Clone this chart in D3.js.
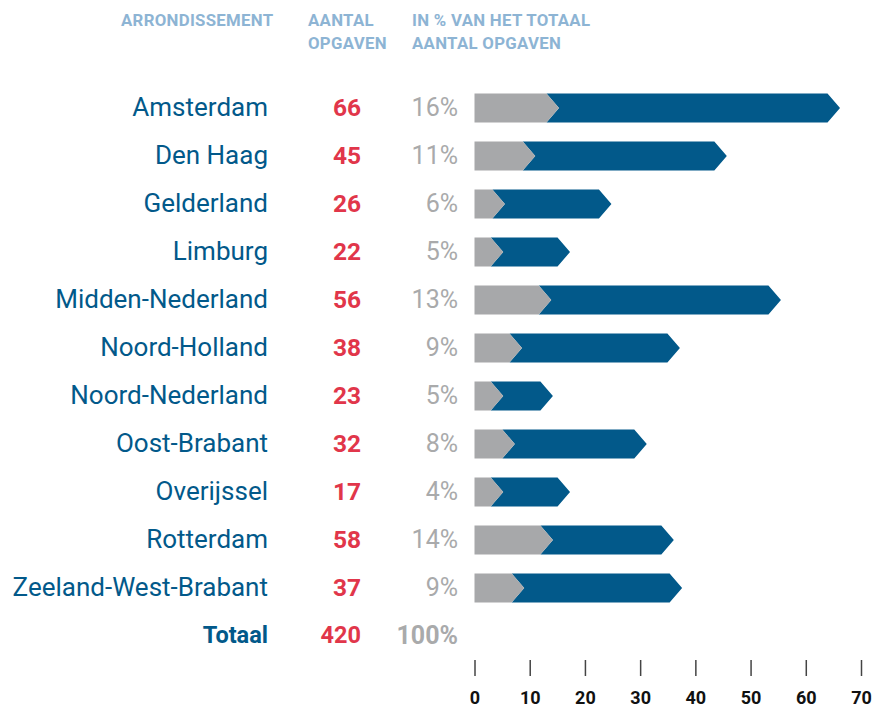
<!DOCTYPE html>
<html>
<head>
<meta charset="utf-8">
<script src="https://cdn.jsdelivr.net/npm/d3@7"></script>
<style>
  body { margin: 0; background: #fff; }
  svg { font-family: Roboto, "Noto Sans", sans-serif; }
</style>
</head>
<body>
<svg id="chart" width="874" height="709"></svg>
<script>
// values
const districts = ['Amsterdam', 'Den Haag', 'Gelderland', 'Limburg', 'Midden-Nederland', 'Noord-Holland',
    'Noord-Nederland', 'Oost-Brabant', 'Overijssel', 'Rotterdam', 'Zeeland-West-Brabant']
const counts = [66, 45, 26, 22, 56, 38, 23, 32, 17, 58, 37]
const percents = ['16%', '11%', '6%', '5%', '13%', '9%', '5%', '8%', '4%', '14%', '9%']
// bar lengths as drawn in the picture (axis units)
const barEnds = [66.2, 45.7, 24.8, 17.3, 55.5, 37.2, 14.2, 31.2, 17.3, 36.1, 37.6]
const grayEnds = [15.3, 11.0, 5.5, 5.2, 13.9, 8.6, 5.2, 7.3, 5.2, 14.2, 9.0]
const totalLabel = 'Totaal'
const totalCount = 420
const totalPercent = '100%'
const xTicks = [0, 10, 20, 30, 40, 50, 60, 70]
const headers = [
    { lines: ['ARRONDISSEMENT'], x: 121 },
    { lines: ['AANTAL', 'OPGAVEN'], x: 308 },
    { lines: ['IN % VAN HET TOTAAL', 'AANTAL OPGAVEN'], x: 412 }
]

const blue = '#02598a'
const gray = '#a7a8aa'
const red = '#e1364a'
const textGray = '#a9aaab'

const svg = d3.select('#chart')

const rows = districts.concat([totalLabel])
const y = d3.scalePoint().domain(rows).range([107, 107 + 48 * 11])
const x = d3.scaleLinear().domain([0, 70]).range([474.5, 861])

const data = districts.map((d, i) => ({
    name: d, count: counts[i], pct: percents[i], end: barEnds[i], gray: grayEnds[i]
}))

// header
const head = svg.append('g')
headers.forEach(h => {
    const t = head.append('text')
        .attr('x', h.x)
        .attr('y', 26)
        .attr('fill', '#8db4d4')
        .attr('font-size', 16.8)
        .attr('font-weight', 700)
        .attr('letter-spacing', 0.3)
    h.lines.forEach((l, j) => {
        t.append('tspan').attr('x', h.x).attr('dy', j ? 23 : 0).text(l)
    })
})

// row labels
const labelG = svg.append('g')
labelG.selectAll('.name')
    .data(data)
    .join('text')
        .attr('class', 'name')
        .attr('x', 268)
        .attr('y', d => y(d.name))
        .attr('dy', '0.36em')
        .attr('text-anchor', 'end')
        .attr('font-size', 26)
        .attr('fill', blue)
        .text(d => d.name)
labelG.selectAll('.count')
    .data(data)
    .join('text')
        .attr('class', 'count')
        .attr('x', 361)
        .attr('y', d => y(d.name))
        .attr('dy', '0.36em')
        .attr('text-anchor', 'end')
        .attr('font-size', 24.5)
        .attr('font-weight', 700)
        .attr('fill', red)
        .text(d => d.count)
labelG.selectAll('.pct')
    .data(data)
    .join('text')
        .attr('class', 'pct')
        .attr('x', 458)
        .attr('y', d => y(d.name))
        .attr('dy', '0.36em')
        .attr('text-anchor', 'end')
        .attr('font-size', 25)
        .attr('fill', textGray)
        .text(d => d.pct)

// totals row
const totG = labelG.append('g').attr('font-size', 23.5).attr('font-weight', 700)
totG.append('text').attr('x', 268).attr('y', y(totalLabel)).attr('dy', '0.36em')
    .attr('text-anchor', 'end').attr('fill', blue).text(totalLabel)
totG.append('text').attr('x', 361).attr('y', y(totalLabel)).attr('dy', '0.36em')
    .attr('text-anchor', 'end').attr('fill', red).text(totalCount)
totG.append('text').attr('x', 458).attr('y', y(totalLabel)).attr('dy', '0.36em')
    .attr('text-anchor', 'end').attr('font-size', 25).attr('fill', textGray).text(totalPercent)

// arrow bars
const barH = 29
const tip = 12.5
const x0 = x(0)

function grayPath(d) {
    const top = y(d.name) + 1 - barH / 2, bot = top + barH, mid = top + barH / 2
    const g = x(d.gray)
    return `M${x0},${top}L${g - tip},${top}L${g},${mid}L${g - tip},${bot}L${x0},${bot}Z`
}
function bluePath(d) {
    const top = y(d.name) + 1 - barH / 2, bot = top + barH, mid = top + barH / 2
    const g = x(d.gray), b = x(d.end)
    return `M${g - tip},${top}L${b - tip},${top}L${b},${mid}L${b - tip},${bot}L${g - tip},${bot}L${g},${mid}Z`
}

const bars = svg.append('g')
bars.selectAll('.blue')
    .data(data)
    .join('path')
        .attr('class', 'blue')
        .attr('d', bluePath)
        .attr('fill', blue)
bars.selectAll('.gray')
    .data(data)
    .join('path')
        .attr('class', 'gray')
        .attr('d', grayPath)
        .attr('fill', gray)

// axis
const xAxis = d3.axisBottom(x).tickValues(xTicks).tickSize(16).tickPadding(15)
const axisG = svg.append('g')
    .attr('transform', 'translate(0,660)')
    .call(xAxis)
axisG.select('.domain').remove()
axisG.selectAll('.tick line').attr('stroke', '#444').attr('stroke-width', 1.5)
axisG.selectAll('.tick text')
    .attr('fill', '#111')
    .attr('font-size', 18)
    .attr('font-weight', 700)
    .attr('font-family', 'Roboto, sans-serif')
</script>
</body>
</html>
